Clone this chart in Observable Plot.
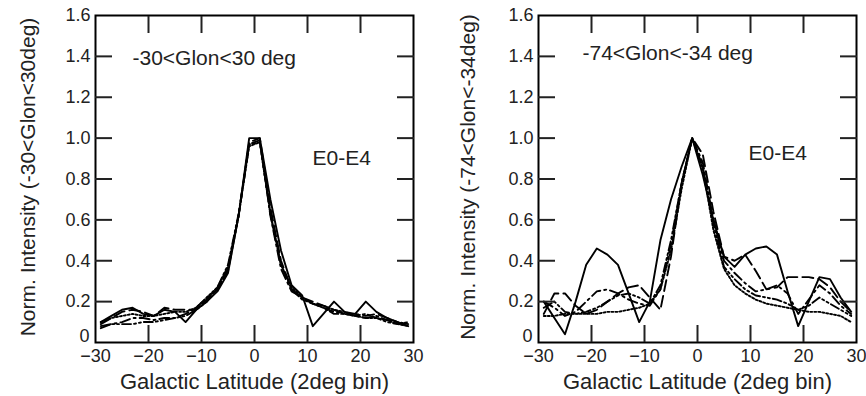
<!DOCTYPE html>
<html>
<head>
<meta charset="utf-8">
<script src="https://cdn.jsdelivr.net/npm/d3@7"></script>
<script src="https://cdn.jsdelivr.net/npm/@observablehq/plot@0.6"></script>
<style>
  html, body { margin: 0; padding: 0; background: #fff; }
  #wrap { display: flex; width: 866px; height: 396px; }
</style>
</head>
<body>
<div id="wrap"></div>
<script>
// Galactic latitude bin centres (2 deg bins)
const lat = [-29,-27,-25,-23,-21,-19,-17,-15,-13,-11,-9,-7,-5,-3,-1,1,3,5,7,9,11,13,15,17,19,21,23,25,27,29];

// Panel A: -30<Glon<30 deg
const A_solid    = [0.10,0.13,0.16,0.17,0.14,0.13,0.16,0.15,0.10,0.16,0.20,0.25,0.34,0.62,1.00,1.00,0.70,0.45,0.28,0.23,0.08,0.14,0.20,0.15,0.14,0.20,0.15,0.12,0.10,0.08];
const A_dash     = [0.09,0.12,0.15,0.16,0.15,0.13,0.17,0.16,0.16,0.16,0.21,0.26,0.35,0.62,0.98,1.00,0.66,0.40,0.26,0.22,0.20,0.18,0.16,0.14,0.14,0.13,0.14,0.12,0.10,0.08];
const A_dashdot  = [0.08,0.09,0.10,0.12,0.12,0.11,0.12,0.12,0.14,0.17,0.22,0.26,0.36,0.62,0.97,0.99,0.62,0.36,0.25,0.22,0.19,0.17,0.15,0.14,0.13,0.12,0.13,0.11,0.10,0.09];
const A_dash2dot = [0.07,0.09,0.09,0.09,0.10,0.10,0.11,0.12,0.13,0.16,0.20,0.27,0.38,0.63,0.97,0.98,0.63,0.38,0.26,0.21,0.19,0.17,0.14,0.14,0.13,0.14,0.12,0.10,0.09,0.10];
const A_dot      = [0.10,0.12,0.13,0.14,0.13,0.13,0.14,0.15,0.15,0.17,0.22,0.27,0.37,0.62,0.96,0.98,0.63,0.38,0.27,0.22,0.19,0.18,0.16,0.15,0.13,0.12,0.12,0.11,0.09,0.08];

// Panel B: -74<Glon<-34 deg
const B_solid    = [0.20,0.12,0.04,0.20,0.38,0.46,0.43,0.38,0.24,0.10,0.20,0.50,0.70,0.86,1.00,0.82,0.60,0.42,0.37,0.43,0.46,0.47,0.43,0.25,0.08,0.20,0.32,0.31,0.22,0.15];
const B_dash     = [0.14,0.24,0.24,0.18,0.14,0.16,0.20,0.24,0.27,0.28,0.22,0.16,0.42,0.78,1.00,0.92,0.64,0.42,0.40,0.43,0.35,0.26,0.27,0.32,0.32,0.32,0.31,0.27,0.20,0.15];
const B_dashdot  = [0.20,0.17,0.13,0.15,0.20,0.25,0.26,0.24,0.21,0.19,0.18,0.26,0.48,0.78,1.00,0.88,0.60,0.40,0.34,0.29,0.25,0.26,0.28,0.24,0.14,0.21,0.28,0.24,0.18,0.14];
const B_dash2dot = [0.17,0.20,0.15,0.14,0.15,0.17,0.20,0.23,0.24,0.22,0.19,0.28,0.50,0.78,1.00,0.86,0.58,0.37,0.31,0.26,0.23,0.22,0.21,0.19,0.16,0.18,0.22,0.19,0.16,0.13];
const B_dot      = [0.13,0.13,0.14,0.14,0.14,0.14,0.15,0.15,0.16,0.17,0.19,0.26,0.45,0.75,1.00,0.85,0.55,0.36,0.28,0.24,0.21,0.19,0.18,0.17,0.16,0.15,0.15,0.14,0.13,0.10];

// Tick values / labels
const xLabelTicks = [-30,-20,-10,0,10,20,30];
const xInnerTicks = [-20,-10,0,10,20];
const yZeroTick = [0];
const yLabelTicks = [0.2,0.4,0.6,0.8,1.0,1.2,1.4,1.6];
const yInnerTicks = [0.2,0.4,0.6,0.8,1.0,1.2,1.4];

const xTitle = "Galactic Latitude (2deg bin)";
const yTitleA = "Norm. Intensity (-30<Glon<30deg)";
const yTitleB = "Norm. Intensity (-74<Glon<-34deg)";
const regionA = "-30<Glon<30 deg";
const regionB = "-74<Glon<-34 deg";
const bandLabel = "E0-E4";

const seriesNames = ["solid","dash","dashdot","dash2dot","dot"];
const dashStyles = {solid: null, dash: "11,5", dashdot: "10,4,2,4", dash2dot: "9,3,2,3,2,3", dot: "2,2"};

function rows(arrays) {
  const out = [];
  seriesNames.forEach((s, i) => {
    lat.forEach((x, j) => out.push({s, lat: x, v: arrays[i][j]}));
  });
  return out;
}

const fontFamily = "'Liberation Sans', Arial, Helvetica, sans-serif";
const textColor = "#222";

function panel({data, marginLeft, marginRight, yTitle, yTitleDx, region, regionDx, regionDy, bandDx, bandDy}) {
  const lines = seriesNames.map(s => Plot.line(data.filter(d => d.s === s), {
    x: "lat", y: "v", stroke: "black", strokeWidth: 1.9,
    strokeDasharray: dashStyles[s], curve: "linear"
  }));
  const fmt = d => d === 0 ? "0" : d.toFixed(1);
  return Plot.plot({
    width: 433, height: 396,
    marginTop: 15, marginBottom: 54, marginLeft, marginRight,
    style: {fontFamily, fontSize: "18px", color: textColor, background: "white", overflow: "visible"},
    x: {domain: [-30, 30]},
    y: {domain: [0, 1.6]},
    marks: [
      ...lines,
      Plot.frame({stroke: "black", strokeWidth: 2}),
      Plot.axisX(xLabelTicks, {anchor: "bottom", tickSize: 0, tickPadding: 7, fontSize: 18, label: null}),
      Plot.axisX(xInnerTicks, {anchor: "bottom", tickSize: -17, strokeWidth: 2, tickFormat: () => "", label: null}),
      Plot.axisX(xInnerTicks, {anchor: "top", tickSize: -17, strokeWidth: 2, tickFormat: () => "", label: null}),
      Plot.axisY(yLabelTicks, {anchor: "left", tickSize: 0, tickPadding: 5, fontSize: 18, tickFormat: fmt, label: null}),
      Plot.axisY(yZeroTick, {anchor: "left", tickSize: 0, tickPadding: 6, fontSize: 18, tickFormat: fmt, label: null, dy: -6}),
      Plot.axisY(yInnerTicks, {anchor: "left", tickSize: -17, strokeWidth: 2, tickFormat: () => "", label: null}),
      Plot.axisY(yInnerTicks, {anchor: "right", tickSize: -17, strokeWidth: 2, tickFormat: () => "", label: null}),
      Plot.text([xTitle], {frameAnchor: "bottom", dy: 39, lineAnchor: "middle", fontSize: 22, text: d => d, fill: textColor}),
      Plot.text([yTitle], {frameAnchor: "left", dx: yTitleDx, dy: -2, rotate: -90, textAnchor: "middle", lineAnchor: "middle", fontSize: 21, text: d => d, fill: textColor}),
      Plot.text([region], {frameAnchor: "top-left", dx: regionDx, dy: regionDy, textAnchor: "start", lineAnchor: "middle", fontSize: 21, text: d => d, fill: textColor}),
      Plot.text([bandLabel], {frameAnchor: "top-left", dx: bandDx, dy: bandDy, textAnchor: "start", lineAnchor: "middle", fontSize: 21, text: d => d, fill: textColor})
    ]
  });
}

const wrap = document.getElementById("wrap");
wrap.append(panel({
  data: rows([A_solid, A_dash, A_dashdot, A_dash2dot, A_dot]),
  marginLeft: 95, marginRight: 20,
  yTitle: yTitleA, yTitleDx: -67,
  region: regionA, regionDx: 37, regionDy: 43,
  bandDx: 217, bandDy: 143
}));
wrap.append(panel({
  data: rows([B_solid, B_dash, B_dashdot, B_dash2dot, B_dot]),
  marginLeft: 105, marginRight: 10,
  yTitle: yTitleB, yTitleDx: -70,
  region: regionB, regionDx: 44, regionDy: 38,
  bandDx: 210, bandDy: 138
}));
</script>
</body>
</html>
